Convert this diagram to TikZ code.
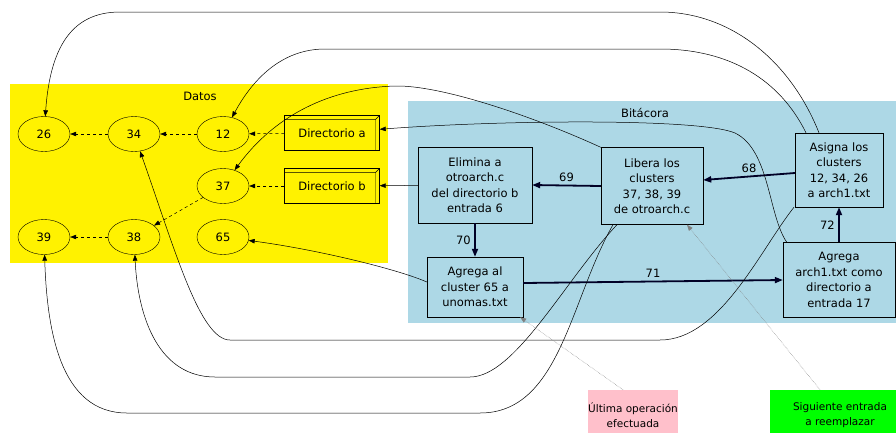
\documentclass[tikz,border=0pt]{standalone}
\usepackage{fontspec}
\setmainfont{DejaVu Sans}
\usetikzlibrary{positioning,arrows.meta,shapes.geometric}
\definecolor{lightblue}{HTML}{ADD8E6}
\definecolor{notepink}{HTML}{FFC0CB}
\definecolor{notegreen}{HTML}{00FF00}

\begin{document}
\begin{tikzpicture}[
  x=1pt, y=-1pt,
  every node/.style={font=\fontsize{11.5}{15.5}\selectfont},
  dato/.style={draw, ellipse, fill=yellow, minimum width=52pt, minimum height=35pt, inner sep=0pt},
  dir/.style={draw, fill=yellow, minimum width=95pt, minimum height=35pt, inner sep=0pt},
  paso/.style={draw, fill=lightblue, align=center, inner sep=0pt},
  nota/.style={align=center, minimum height=50pt, inner sep=0pt, font=\fontsize{10.5}{15}\selectfont},
  arrow/.style={-{Triangle[length=6pt,width=4.5pt]}, line width=0.5pt},
  ptr/.style={arrow, dashed},
  aviso/.style={arrow, densely dotted, gray},
  op/.style={-{Triangle[length=8pt,width=6pt]}, line width=1.8pt, black!85!blue}
]
  \useasboundingbox (0,0) rectangle (896,432);
  % clusters
  \fill[yellow] (10,84) rectangle (388,263);
  \fill[lightblue] (408,101) rectangle (896,323);
  \node (datoslbl) at (200,96) {Datos};
  \node (bitlbl) at (645,113) {Bitácora};

  % Datos
  \node[dato] (n26) at (44,134) {26};
  \node[dato] (n34) at (134,134) {34};
  \node[dato] (n12) at (223,134) {12};
  \node[dato] (n37) at (223,186) {37};
  \node[dato] (n39) at (44,237) {39};
  \node[dato] (n38) at (134,237) {38};
  \node[dato] (n65) at (223,237) {65};
  \node[dir] (dira) at (332,133) {Directorio a};
  \node[dir] (dirb) at (332,186) {Directorio b};
  \foreach \d in {dira,dirb}
    \draw ([yshift=-4pt]\d.north west) -- ([shift={(-4pt,-4pt)}]\d.north east) -- ([xshift=-4pt]\d.south east)
          ([shift={(-4pt,-4pt)}]\d.north east) -- (\d.north east);

  % Bitacora
  \node[paso, minimum width=114pt, minimum height=76pt] (elim) at (475,185) {Elimina a\\otroarch.c\\del directorio b\\entrada 6};
  \node[paso, minimum width=102pt, minimum height=77pt] (libera) at (652,186) {Libera los\\clusters\\37, 38, 39\\de otroarch.c};
  \node[paso, minimum width=88pt, minimum height=74pt] (asigna) at (839,170) {Asigna los\\clusters\\12, 34, 26\\a arch1.txt};
  \node[paso, minimum width=96pt, minimum height=60pt] (agr65) at (475,287) {Agrega al\\cluster 65 a\\unomas.txt};
  \node[paso, minimum width=112pt, minimum height=75pt] (arch1) at (839,280) {Agrega\\arch1.txt como\\directorio a\\entrada 17};

  % notas
  \node[nota, fill=notepink, minimum width=90pt] (ultima) at (633,415) {Última operación\\efectuada};
  \node[nota, fill=notegreen, minimum width=140pt] (sig) at (840,415) {Siguiente entrada\\a reemplazar};

  % punteros de datos
  \draw[ptr] (dira) -- (n12);
  \draw[ptr] (n12) -- (n34);
  \draw[ptr] (n34) -- (n26);
  \draw[ptr] (dirb) -- (n37);
  \draw[ptr] (n37) -- (n38);
  \draw[ptr] (n38) -- (n39);

  % operaciones
  \draw[op] ([yshift=-3pt]asigna.west) -- ([yshift=6pt]libera.east) node[midway, above, black] (l68) {68};
  \draw[op] (libera.west) -- (elim.east) node[midway, above, black] (l69) {69};
  \draw[op] (elim.south) -- (agr65.north) node[midway, left, black] (l70) {70};
  \draw[op] ([yshift=4pt]agr65.east) -- (arch1.west) node[midway, above, black] (l71) {71};
  \draw[op] (arch1.north) -- (asigna.south) node[midway, left, black] (l72) {72};

  % efectos sobre los datos
  \draw[arrow] ([xshift=-20pt]asigna.north) .. controls (790,60) and (730,12) .. (660,12)
    -- (120,12) .. controls (70,12) and (50,50) .. (n26);
  \draw[arrow] ([xshift=-33pt]asigna.north) .. controls (780,80) and (730,49) .. (660,49)
    -- (325,49) .. controls (285,49) and (255,75) .. (n12);
  \draw[arrow] (libera.north west) .. controls (530,115) and (440,85) .. (395,86)
    .. controls (330,88) and (275,115) .. (n37);
  \draw[arrow] ([xshift=4pt]arch1.north west) .. controls (768,215) and (770,150) .. (735,133)
    .. controls (700,118) and (500,120) .. (dira);
  \draw[arrow] (elim) -- (dirb);
  \draw[arrow] ([yshift=5pt]agr65.west) .. controls (400,270) and (320,250) .. (n65);
  \draw[arrow] ([xshift=-35pt]libera.south) .. controls (565,280) and (515,377) .. (470,377)
    -- (215,377) .. controls (160,377) and (138,320) .. (n38);
  \draw[arrow] ([xshift=-39pt]libera.south) .. controls (570,300) and (560,413) .. (480,413)
    -- (127,413) .. controls (60,413) and (47,330) .. (n39);
  \draw[arrow] ([xshift=-45pt]asigna.south) .. controls (760,250) and (720,340) .. (660,340)
    -- (230,340) .. controls (200,340) and (175,250) .. (n34);

  % notas
  \draw[aviso] ([xshift=-10pt]ultima.north) -- ([xshift=-3pt]agr65.south east);
  \draw[aviso] ([xshift=-20pt]sig.north) -- ([xshift=35pt]libera.south);
\end{tikzpicture}
\end{document}
